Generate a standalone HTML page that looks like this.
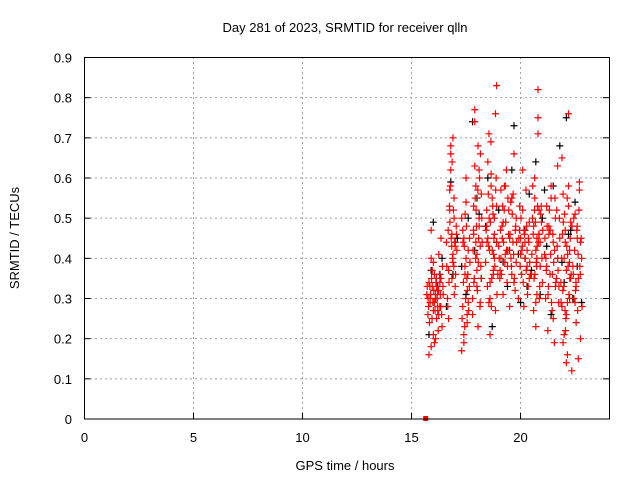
<!DOCTYPE html>
<html><head><meta charset="utf-8"><style>
html,body{margin:0;padding:0;background:#fff}
svg{display:block;font-family:"Liberation Sans",sans-serif}
</style></head><body>
<svg id="chart" width="640" height="480">
<text x="345" y="32" font-size="13" text-anchor="middle">Day 281 of 2023, SRMTID for receiver qlln</text>
<text x="345" y="470" font-size="13" text-anchor="middle">GPS time / hours</text>
<text transform="translate(19,238) rotate(-90)" font-size="13" text-anchor="middle">SRMTID / TECUs</text>
<g id="grid"></g><g id="ticks"></g><g id="marks"></g>
<rect x="84.5" y="57.5" width="525" height="361.5" fill="none" stroke="#000" stroke-width="1"/>
</svg>
<script>
const xTicks=[0,5,10,15,20];
const yTicks=[0,0.1,0.2,0.3,0.4,0.5,0.6,0.7,0.8,0.9];
const blackT=[15.8,15.9,16.0,16.1,16.2,16.4,16.6,16.8,16.9,17.1,17.3,17.5,17.6,17.8,17.9,18.0,18.2,18.4,18.5,18.7,18.9,19.0,19.2,19.4,19.6,19.7,19.9,20.0,20.2,20.4,20.5,20.7,20.9,21.0,21.2,21.4,21.5,21.7,21.8,22.0,22.1,22.2,22.4,22.5,22.6,22.8,16.3,17.0,18.1,19.5,20.3,21.1,21.9,22.3];
const blackV=[0.21,0.37,0.49,0.30,0.33,0.40,0.28,0.59,0.36,0.45,0.38,0.31,0.50,0.74,0.42,0.55,0.35,0.48,0.60,0.23,0.44,0.52,0.39,0.33,0.62,0.73,0.41,0.29,0.47,0.56,0.37,0.64,0.31,0.50,0.43,0.26,0.58,0.40,0.68,0.34,0.75,0.46,0.30,0.54,0.38,0.29,0.36,0.44,0.51,0.42,0.33,0.57,0.39,0.47];
const redT=[15.7,15.75,15.8,15.85,15.9,15.95,16.0,16.05,16.1,16.15,16.2,16.25,16.3,16.35,16.4,16.45,15.8,15.9,16.0,16.1,16.2,16.3,15.85,15.95,16.05,16.15,16.25,16.35,
16.6,16.65,16.7,16.75,16.8,16.85,16.9,16.95,17.0,17.05,16.7,16.8,16.9,17.0,16.75,16.85,16.95,16.8,16.9,
17.3,17.35,17.4,17.45,17.5,17.55,17.6,17.65,17.3,17.4,17.5,17.6,17.35,17.45,17.55,17.4,17.5,
17.8,17.85,17.9,17.95,18.0,18.05,18.1,18.15,18.2,17.8,17.9,18.0,18.1,18.2,17.85,17.95,18.05,18.15,17.9,18.0,18.1,
18.4,18.45,18.5,18.55,18.6,18.65,18.7,18.75,18.8,18.85,18.9,18.5,18.6,18.7,18.8,18.9,18.45,18.55,18.65,18.75,18.85,18.6,18.8,18.9,
19.0,19.05,19.1,19.15,19.2,19.25,19.3,19.35,19.4,19.45,19.5,19.55,19.6,19.65,19.7,19.75,19.8,19.1,19.3,19.5,19.7,19.2,19.4,19.6,19.8,
19.9,19.95,20.0,20.05,20.1,20.15,20.2,20.25,20.3,20.35,20.4,20.0,20.2,20.4,20.1,20.3,
20.5,20.55,20.6,20.65,20.7,20.75,20.8,20.85,20.9,20.95,21.0,20.6,20.7,20.8,20.9,20.65,20.75,20.85,20.7,20.8,20.75,
21.1,21.15,21.2,21.25,21.3,21.35,21.4,21.45,21.5,21.55,21.6,21.65,21.7,21.75,21.8,21.2,21.4,21.6,21.3,21.5,21.7,
21.85,21.9,21.95,22.0,22.05,22.1,22.15,22.2,22.25,22.3,22.35,21.9,22.0,22.1,22.2,22.3,21.95,22.05,22.15,22.25,22.1,22.2,
22.4,22.45,22.5,22.55,22.6,22.65,22.7,22.75,22.8,22.5,22.6,22.7,22.55,22.65,22.75];
const redV=[0.31,0.26,0.34,0.29,0.18,0.33,0.27,0.36,0.30,0.25,0.32,0.41,0.28,0.35,0.23,0.31,0.16,0.47,0.39,0.20,0.28,0.34,0.30,0.37,0.19,0.33,0.26,0.45,
0.44,0.30,0.37,0.52,0.68,0.46,0.41,0.55,0.33,0.48,0.25,0.62,0.70,0.43,0.57,0.35,0.50,0.66,0.39,
0.17,0.28,0.45,0.38,0.54,0.24,0.42,0.33,0.50,0.21,0.60,0.29,0.47,0.36,0.26,0.19,0.40,
0.30,0.53,0.63,0.44,0.37,0.68,0.48,0.29,0.56,0.26,0.74,0.41,0.50,0.35,0.46,0.58,0.23,0.43,0.77,0.33,0.62,
0.39,0.52,0.45,0.71,0.30,0.58,0.42,0.36,0.50,0.27,0.44,0.64,0.34,0.55,0.40,0.83,0.48,0.29,0.61,0.37,0.76,0.21,0.46,0.53,
0.43,0.35,0.57,0.48,0.31,0.52,0.41,0.62,0.38,0.46,0.28,0.54,0.36,0.44,0.66,0.32,0.50,0.40,0.58,0.45,0.34,0.49,0.42,0.55,0.39,
0.30,0.47,0.41,0.36,0.52,0.28,0.44,0.57,0.38,0.33,0.49,0.45,0.40,0.35,0.62,0.42,
0.36,0.50,0.27,0.55,0.42,0.31,0.71,0.46,0.38,0.53,0.34,0.48,0.23,0.82,0.44,0.60,0.40,0.52,0.29,0.75,0.45,
0.41,0.30,0.53,0.22,0.46,0.36,0.58,0.27,0.44,0.19,0.50,0.35,0.63,0.29,0.45,0.38,0.55,0.33,0.48,0.25,0.40,
0.34,0.28,0.56,0.21,0.44,0.37,0.16,0.76,0.30,0.49,0.12,0.65,0.40,0.26,0.58,0.35,0.19,0.47,0.29,0.42,0.14,0.53,
0.38,0.30,0.51,0.24,0.45,0.35,0.57,0.20,0.40,0.29,0.48,0.59,0.33,0.15,0.44];
const red2T=[15.72,15.78,15.82,15.88,15.92,15.98,16.02,16.08,16.12,16.18,16.22,16.28,16.32,16.38,16.42,15.76,15.84,15.94,16.04,16.14,16.24,16.34,16.44,15.9,16.0,16.1,16.2,
16.62,16.68,16.72,16.78,16.82,16.88,16.92,16.98,17.02,17.08,16.66,16.76,16.86,16.96,17.06,16.74,16.84,16.94,
17.32,17.38,17.42,17.48,17.52,17.58,17.62,17.68,17.36,17.46,17.56,17.66,17.44,17.54,
17.82,17.88,17.92,17.98,18.02,18.08,18.12,18.18,18.22,17.84,17.94,18.04,18.14,18.24,17.86,17.96,18.06,18.16,
18.42,18.48,18.52,18.58,18.62,18.68,18.72,18.78,18.82,18.88,18.92,18.46,18.56,18.66,18.76,18.86,18.96,18.54,18.64,18.74,
19.02,19.08,19.12,19.18,19.22,19.28,19.32,19.38,19.42,19.48,19.52,19.58,19.62,19.68,19.72,19.78,19.82,19.06,19.16,19.26,19.36,19.46,19.56,19.66,19.76,
19.92,19.98,20.02,20.08,20.12,20.18,20.22,20.28,20.32,20.38,20.42,20.46,19.96,20.06,20.16,20.26,20.36,
20.52,20.58,20.62,20.68,20.72,20.78,20.82,20.88,20.92,20.98,21.02,20.56,20.66,20.76,20.86,20.96,20.64,20.74,20.84,
21.12,21.18,21.22,21.28,21.32,21.38,21.42,21.48,21.52,21.58,21.62,21.68,21.72,21.78,21.16,21.26,21.36,21.46,21.56,21.66,21.76,
21.88,21.92,21.98,22.02,22.08,22.12,22.18,22.22,22.28,22.32,21.86,21.96,22.06,22.16,22.26,22.36,21.94,22.04,22.14,22.24,
22.42,22.48,22.52,22.58,22.62,22.68,22.72,22.78,22.44,22.54,22.64,22.74,22.82];
const red2V=[0.33,0.28,0.24,0.31,0.35,0.29,0.32,0.27,0.34,0.30,0.22,0.36,0.31,0.26,0.38,0.30,0.33,0.25,0.29,0.35,0.32,0.28,0.33,0.40,0.21,0.31,0.27,
0.38,0.47,0.34,0.58,0.45,0.40,0.52,0.44,0.36,0.42,0.28,0.49,0.64,0.31,0.46,0.53,0.43,0.38,
0.25,0.34,0.43,0.30,0.48,0.36,0.27,0.39,0.44,0.51,0.32,0.45,0.23,0.35,
0.42,0.35,0.55,0.48,0.32,0.45,0.60,0.38,0.50,0.47,0.40,0.57,0.28,0.44,0.34,0.52,0.39,0.66,
0.47,0.33,0.56,0.42,0.49,0.35,0.53,0.45,0.38,0.60,0.31,0.44,0.50,0.28,0.41,0.57,0.36,0.43,0.69,0.51,
0.40,0.47,0.36,0.53,0.44,0.39,0.49,0.34,0.55,0.42,0.46,0.38,0.51,0.41,0.35,0.48,0.44,0.37,0.45,0.58,0.42,0.52,0.40,0.56,0.47,
0.45,0.38,0.50,0.43,0.34,0.46,0.40,0.48,0.31,0.44,0.39,0.36,0.53,0.42,0.47,0.37,0.45,
0.41,0.46,0.35,0.49,0.39,0.53,0.44,0.33,0.51,0.40,0.47,0.58,0.36,0.43,0.30,0.49,0.52,0.38,0.46,
0.45,0.37,0.48,0.33,0.52,0.41,0.29,0.46,0.39,0.55,0.34,0.43,0.37,0.50,0.40,0.31,0.47,0.36,0.42,0.52,0.33,
0.40,0.46,0.33,0.51,0.25,0.43,0.38,0.31,0.45,0.36,0.29,0.49,0.22,0.41,0.35,0.48,0.32,0.27,0.55,0.39,
0.36,0.42,0.32,0.47,0.27,0.52,0.38,0.45,0.50,0.34,0.41,0.36,0.28];
const X=h=>84.5+h*(525/24.08);
const Y=v=>419-v*(361.5/0.9);
const ns="http://www.w3.org/2000/svg";
function mk(tag,attrs,parent){const e=document.createElementNS(ns,tag);for(const k in attrs)e.setAttribute(k,attrs[k]);parent.appendChild(e);return e;}
const grid=document.getElementById('grid'),ticks=document.getElementById('ticks'),marks=document.getElementById('marks');
xTicks.forEach(t=>{const x=X(t);
 if(t>0){const g=mk('line',{x1:x,x2:x,y1:57,y2:419,stroke:'#a0a0a0','stroke-dasharray':'2,3'},grid);
 
 }
 mk('line',{x1:x,x2:x,y1:419,y2:413,stroke:'#000'},ticks);
 const l=mk('text',{x:x,y:442,'font-size':13,'text-anchor':'middle'},ticks);l.textContent=t;
 
 });
yTicks.forEach(t=>{const y=Y(t);
 if(t>0){const g=mk('line',{x1:85,x2:609,y1:y,y2:y,stroke:'#a0a0a0','stroke-dasharray':'2,3'},grid);
 
 }
 mk('line',{x1:84.5,x2:90.5,y1:y,y2:y,stroke:'#000'},ticks);
 mk('line',{x1:609,x2:603,y1:y,y2:y,stroke:'#000'},ticks);
 const l=mk('text',{x:72,y:y+5,'font-size':13,'text-anchor':'end'},ticks);l.textContent=t===0?'0':t.toFixed(1);
 
 });
function plus(h,v,c,name){const x=X(h),y=Y(v);
 const p=mk('path',{d:`M${x-3.5},${y}H${x+3.5}M${x},${y-3.5}V${y+3.5}`,stroke:c,'stroke-width':1.2,fill:'none'},marks);
 
 }
blackT.forEach((h,i)=>plus(h,blackV[i],'#000','black-point'));
redT.forEach((h,i)=>plus(h,redV[i],'#f00','red-point'));
red2T.forEach((h,i)=>plus(h,red2V[i],'#f00','red-point'));
const sq=mk('rect',{x:X(15.65)-2.5,y:Y(0)-3,width:5,height:5,fill:'#f00'},marks);


</script>
</body></html>
